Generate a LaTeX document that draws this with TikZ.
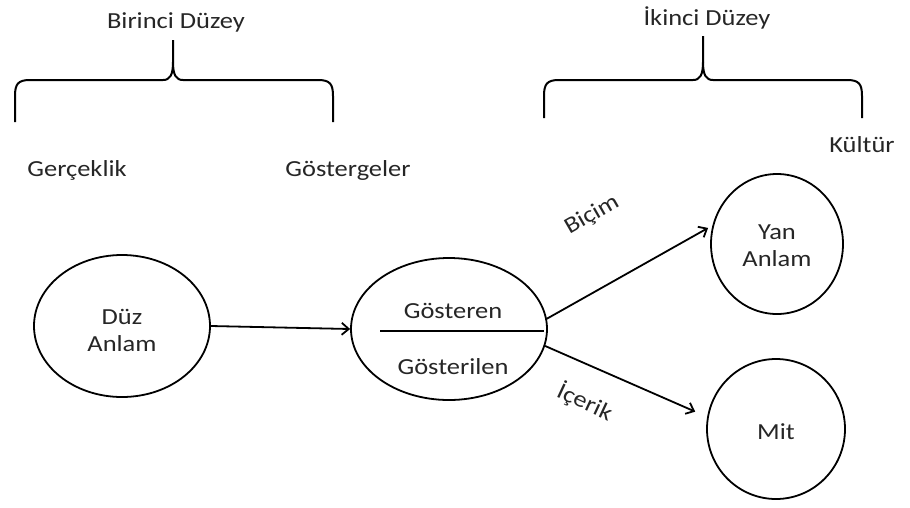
\documentclass[tikz,border=0pt]{standalone}
\usepackage{fontspec}
\setmainfont{Carlito}[FakeStretch=1.15]
\usetikzlibrary{shapes.geometric,arrows.meta}
\begin{document}
\begin{tikzpicture}[x=1pt,y=-1pt,
  lbl/.style={font=\fontsize{23}{27}\selectfont, text=black!85, inner sep=0pt, align=center},
  circ/.style={draw, ellipse, line width=1.8pt, inner sep=0pt},
  brace/.style={draw, line width=2pt},
  arr/.style={line width=1.8pt, -{Straight Barb[length=7pt,width=12pt,line width=1.8pt]}}]
\useasboundingbox (0,0) rectangle (910,507);
% braces
\draw[brace] (15,122) -- (15,96) .. controls (15,84) and (18,80) .. (30,80) -- (163,80)
  .. controls (170,80) and (173,75) .. (173,62) -- (173,40);
\draw[brace] (173,62) .. controls (173,75) and (176,80) .. (183,80) -- (318,80)
  .. controls (330,80) and (333,84) .. (333,96) -- (333,122);
\draw[brace] (544,118) -- (544,96) .. controls (544,84) and (547,80) .. (559,80) -- (693,80)
  .. controls (700,80) and (703,75) .. (703,62) -- (703,36);
\draw[brace] (703,62) .. controls (703,75) and (706,80) .. (713,80) -- (847,80)
  .. controls (859,80) and (862,84) .. (862,96) -- (862,118);
% labels
\node[lbl] (l1) at (176,22) {Birinci Düzey};
\node[lbl] (l2) at (707,18) {İkinci Düzey};
\node[lbl] (l3) at (862,145) {Kültür};
\node[lbl] (l4) at (77,170) {Gerçeklik};
\node[lbl] (l5) at (348,170) {Göstergeler};
% circles
\node[circ, minimum width=176pt, minimum height=142pt] (duz) at (122,326) {};
\node[lbl] (duzt) at (122,330) {Düz\\Anlam};
\node[circ, minimum width=196pt, minimum height=142pt] (gos) at (449,329) {};
\node[lbl] (gost1) at (453,311) {Gösteren};
\node[lbl] (gost2) at (453,367) {Gösterilen};
\draw[line width=1.8pt] (380,331) -- (544,331);
\node[circ, minimum width=132pt, minimum height=140pt] (yan) at (777,244) {};
\node[lbl] (yant) at (777,246) {Yan\\Anlam};
\node[circ, minimum width=138pt, minimum height=140pt] (mit) at (776,429) {};
\node[lbl] (mitt) at (776,432) {Mit};
% arrows
\draw[arr] (duz.east) -- (gos.west);
\draw[arr, shorten >=5pt] (gos.6) -- (yan.164);
\draw[arr, shorten >=13pt] (gos.-10) -- (mit.170);
\node[lbl, rotate=30] (bic) at (592,215) {Biçim};
\node[lbl, rotate=-25] (ice) at (585,402) {İçerik};
\end{tikzpicture}
\end{document}
